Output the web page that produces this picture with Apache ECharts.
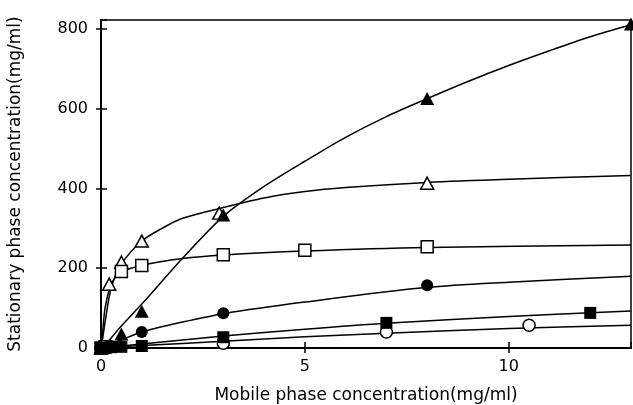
<!DOCTYPE html>
<html>
<head>
<meta charset="utf-8"/>
<title>Isotherms</title>
<script src="https://cdn.jsdelivr.net/npm/echarts@6/dist/echarts.min.js"></script>
<style>
  html, body { margin: 0; padding: 0; background: #fff; }
  #main { width: 633px; height: 405px; }
</style>
</head>
<body>
<div id="main"></div>
<script type="text/javascript">
// tick values
var xTicks = [0, 5, 10];
var yTicks = [0, 200, 400, 600, 800];

// measured points [mobile, stationary]
var filledTriPts = [[0, 0], [0.1, 3], [0.5, 35], [1, 92], [3, 333], [8, 625], [13, 812]];
var openTriPts = [[0, 0], [0.2, 160], [0.5, 215], [1, 268], [2.9, 338], [8, 413]];
var openSqPts = [[0, 0], [0.1, 3], [0.5, 192], [1, 207], [3, 234], [5, 245], [8, 254]];
var filledCircPts = [[0, 0], [0.25, 5], [1, 40], [3, 87], [8, 157]];
var filledSqPts = [[0, 0], [0.1, 0], [0.25, 2], [0.5, 3], [1, 5], [3, 27], [7, 63], [12, 88]];
var openCircPts = [[0, 0], [3, 12], [7, 40], [10.5, 57]];

// fitted curves
var filledTriFit = [[0, 0], [0.1, 8], [0.5, 55], [1, 110], [2, 225], [3, 330], [4, 405], [5, 468], [6, 528], [7, 580], [8, 625], [9, 668], [10, 708], [11, 745], [12, 780], [13, 810]];
var openTriFit = [[0, 0], [0.05, 30], [0.1, 65], [0.25, 150], [0.5, 210], [1, 268], [1.5, 300], [2, 325], [3, 352], [4, 376], [5, 392], [6, 402], [8, 415], [10, 423], [13, 432]];
var openSqFit = [[0, 0], [0.05, 50], [0.1, 100], [0.25, 160], [0.5, 190], [1, 207], [2, 224], [3, 233], [5, 243], [8, 252], [13, 258]];
var filledCircFit = [[0, 0], [0.5, 20], [1, 40], [2, 65], [3, 86], [5, 115], [8, 152], [10, 165], [13, 180]];
var filledSqFit = [[0, 0], [1, 10], [3, 30], [5, 47], [7, 62], [10, 79], [13, 93]];
var openCircFit = [[0, 0], [1, 6], [3, 17], [5, 28], [7, 37], [10, 49], [13, 57]];

var myChart = echarts.init(document.getElementById('main'));

function fitLine(data) {
    return {
        type: 'line', data: data, smooth: 0.3, showSymbol: false, silent: true,
        lineStyle: {color: '#000', width: 1.5}, z: 2
    };
}
function pts(data, symbol, filled, size) {
    return {
        type: 'scatter', data: data, symbol: symbol, symbolSize: size,
        itemStyle: {color: filled ? '#000' : '#fff', borderColor: '#000', borderWidth: filled ? 0 : 1.5, opacity: 1},
        z: 3
    };
}

var labelFont = {color: '#000', fontSize: 16, fontFamily: 'DejaVu Sans'};
var nameFont = {color: '#000', fontSize: 17, fontFamily: 'DejaVu Sans'};

var option = {
    animation: false,
    grid: {left: 101, top: 20, right: 2, bottom: 57, outerBoundsMode: 'none',
        show: true, borderColor: '#000', borderWidth: 1.5},
    xAxis: [{
        type: 'value', min: 0, max: 13, interval: 5,
        name: 'Mobile phase concentration(mg/ml)', nameLocation: 'middle', nameGap: 39,
        nameTextStyle: nameFont,
        axisLine: {lineStyle: {color: '#000', width: 2}},
        axisTick: {length: 5, lineStyle: {color: '#000', width: 1.5}},
        axisLabel: Object.assign({margin: 11, showMaxLabel: false,
            formatter: function (v) { return xTicks.indexOf(v) >= 0 ? v : ''; }}, labelFont),
        splitLine: {show: false}
    }, {
        type: 'value', min: 0, max: 13, interval: 5, position: 'bottom',
        axisLine: {show: false},
        axisTick: {inside: true, length: 6, lineStyle: {color: '#000', width: 1.5}},
        axisLabel: {show: false}, splitLine: {show: false}
    }],
    yAxis: [{
        type: 'value', min: 0, max: 822, interval: 200,
        name: 'Stationary phase concentration(mg/ml)', nameLocation: 'middle', nameGap: 77,
        nameTextStyle: nameFont,
        axisLine: {show: true, lineStyle: {color: '#000', width: 2}},
        axisTick: {show: true, length: 5, lineStyle: {color: '#000', width: 1.5}},
        axisLabel: Object.assign({margin: 13, showMaxLabel: false,
            formatter: function (v) { return yTicks.indexOf(v) >= 0 ? v : ''; }}, labelFont),
        splitLine: {show: false}
    }, {
        type: 'value', min: 0, max: 822, interval: 200, position: 'left',
        axisLine: {show: false},
        axisTick: {show: true, inside: true, length: 6, lineStyle: {color: '#000', width: 1.5}},
        axisLabel: {show: false}, splitLine: {show: false}
    }],
    series: [
        fitLine(filledTriFit), fitLine(openTriFit), fitLine(openSqFit),
        fitLine(filledCircFit), fitLine(filledSqFit), fitLine(openCircFit),
        pts(openTriPts, 'triangle', false, [13, 12]),
        pts(openSqPts, 'rect', false, 12),
        pts(openCircPts, 'circle', false, 12),
        pts(filledCircPts, 'circle', true, 12),
        pts(filledSqPts, 'rect', true, 12),
        pts(filledTriPts, 'triangle', true, [14, 13])
    ]
};

myChart.setOption(option);
</script>
</body>
</html>
